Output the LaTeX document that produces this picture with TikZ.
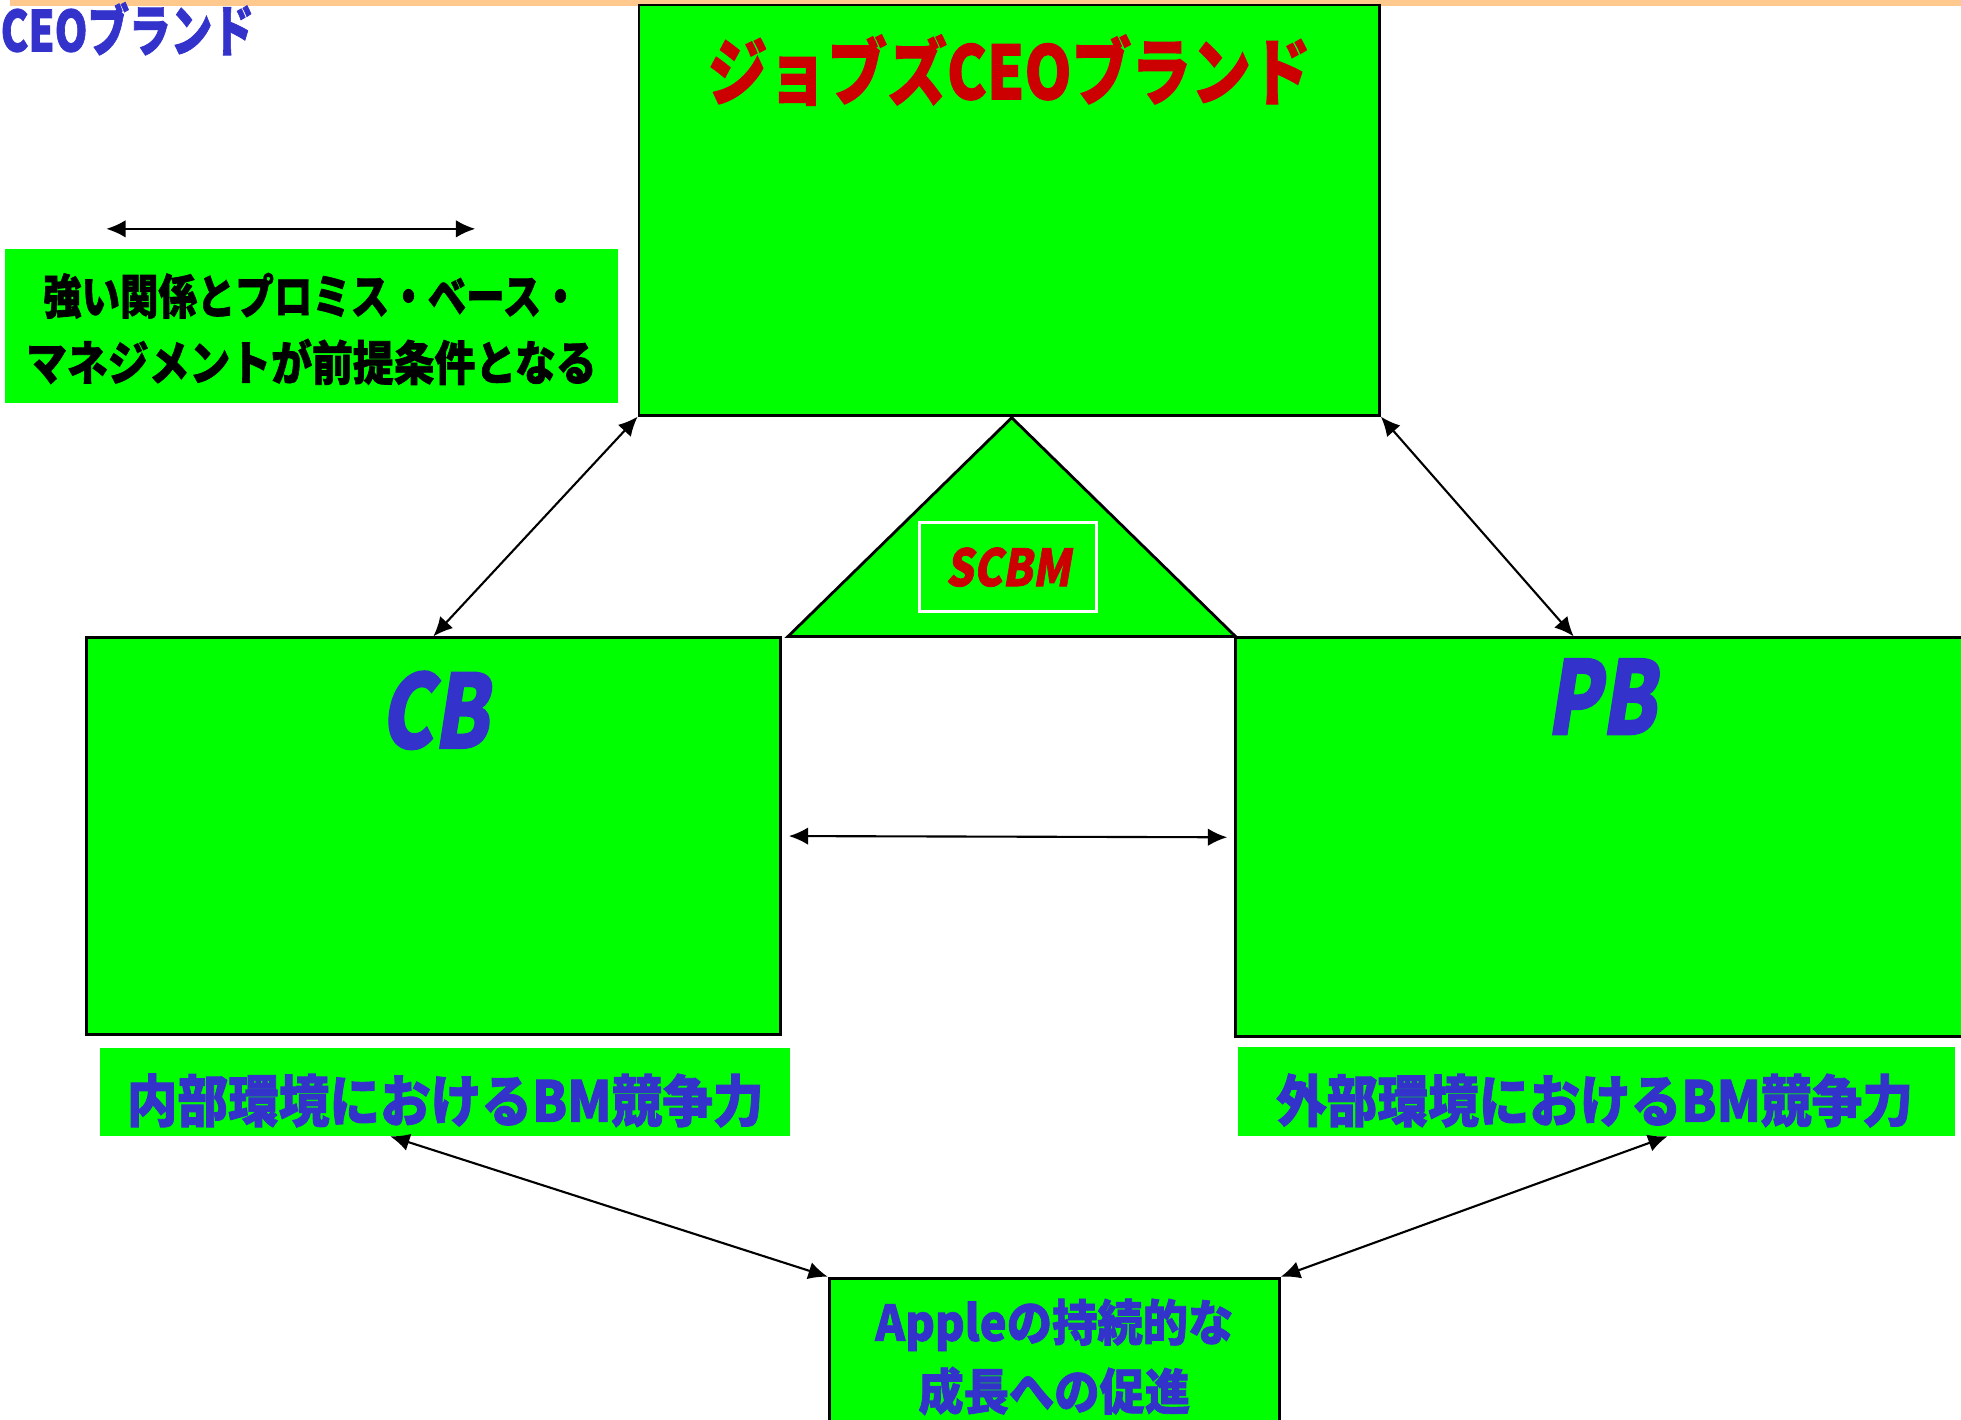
\documentclass[tikz,border=0pt]{standalone}
\usepackage{fontspec}
\setmainfont{Noto Sans CJK JP}[BoldFeatures={FakeBold=1.5}]
\newfontfamily\popslant{Noto Sans CJK JP}[FakeSlant=0.2, BoldFeatures={FakeBold=1.5}]
\usepackage{graphicx}
\usetikzlibrary{arrows.meta,fit,calc}
\definecolor{ceogreen}{HTML}{00FF00}
\definecolor{popblue}{HTML}{3333CC}
\definecolor{popred}{HTML}{CC0000}
\definecolor{topband}{HTML}{FFC88C}
\newcommand\popsz[3]{\fontsize{#1}{#1}\selectfont\bfseries\scalebox{#2}[1]{#3}}
\tikzset{
  gbox/.style  ={draw=black, line width=0.8pt, fill=ceogreen, inner sep=0pt},
  gpanel/.style={fill=ceogreen, inner sep=0pt},
  tri/.style   ={draw=black, line width=0.8pt, fill=ceogreen, line join=miter},
  link/.style  ={<->, >={Latex[length=5.5pt,width=5pt]}, line width=0.6pt},
  bluetxt/.style={text=popblue, inner sep=0pt, align=center},
  redtxt/.style ={text=popred, inner sep=0pt, align=center},
}
\begin{document}
\begin{tikzpicture}[x=0.0125cm, y=-0.0125cm]
  \useasboundingbox (0,0) rectangle (1568,1135);
  \fill[topband] (8,0) rectangle (1568,4.5);
  % boxes
  \node[gbox, fit={(511,4) (1103,332)}] (ceo) {};
  \node[gpanel, fit={(4,199) (494,322)}] (note) {};
  \node[gbox, fit={(69,510) (624,827)}] (cb) {};
  \node[gbox, fit={(988,510) (1575,829)}] (pb) {};
  \node[gpanel, fit={(80,838) (632,908)}] (inner) {};
  \node[gpanel, fit={(990,837) (1563,908)}] (outer) {};
  \node[gbox, fit={(663,1022) (1023,1150)}] (apple) {};
  % triangle
  \coordinate (apex) at (809,334);
  \coordinate (triL) at (630,509);
  \coordinate (triR) at (988,509);
  \filldraw[tri] (apex) -- (triR) -- (triL) -- cycle;
  \node[draw=white, line width=0.8pt, fill=ceogreen, minimum width=1.775cm, minimum height=0.8875cm,
        text=popred] (scbm) at (806,453.5) {\popslant\popsz{14.5}{0.85}{SCBM}};
  % arrows
  \coordinate (topL) at (85,183);
  \coordinate (topR) at (380,183);
  \draw[link] (topL) -- (topR);
  \draw[link] (ceo.south west) -- (cb.north);
  \draw[link] (ceo.south east) -- ([xshift=-0.29cm]pb.north);
  \draw[link, shorten <=2pt, shorten >=2pt] (cb.east) -- (pb.west);
  \draw[link] ([xshift=-0.55cm]inner.south) -- (apple.north west);
  \draw[link] ([xshift=0.71cm]outer.south) -- (apple.north east);
  % texts
  \node[bluetxt, anchor=west] (brand) at (0,23) {\popsz{16}{0.74}{CEOブランド}};
  \node[redtxt] (ceolab) at (807,56) {\popsz{21}{0.81}{ジョブズCEOブランド}};
  \node[inner sep=0pt, align=center, font=\fontsize{13.5}{18.9}\selectfont] (notelab) at (249,263)
    {\popsz{13.5}{0.81}{強い関係とプロミス・ベース・}\\\popsz{13.5}{0.86}{マネジメントが前提条件となる}};
  \node[bluetxt] (cblab) at (347,568) {\popslant\popsz{29}{0.78}{CB}};
  \node[bluetxt] (pblab) at (1280,557) {\popslant\popsz{29}{0.78}{PB}};
  \node[bluetxt] (innerlab) at (356,880) {\popsz{16}{0.9}{内部環境におけるBM競争力}};
  \node[bluetxt] (outerlab) at (1275,880) {\popsz{16}{0.9}{外部環境におけるBM競争力}};
  \node[bluetxt, font=\fontsize{14}{19.6}\selectfont] (applelab) at (843,1085)
    {\popsz{14}{0.92}{Appleの持続的な}\\\popsz{14}{0.92}{成長への促進}};
\end{tikzpicture}
\end{document}
